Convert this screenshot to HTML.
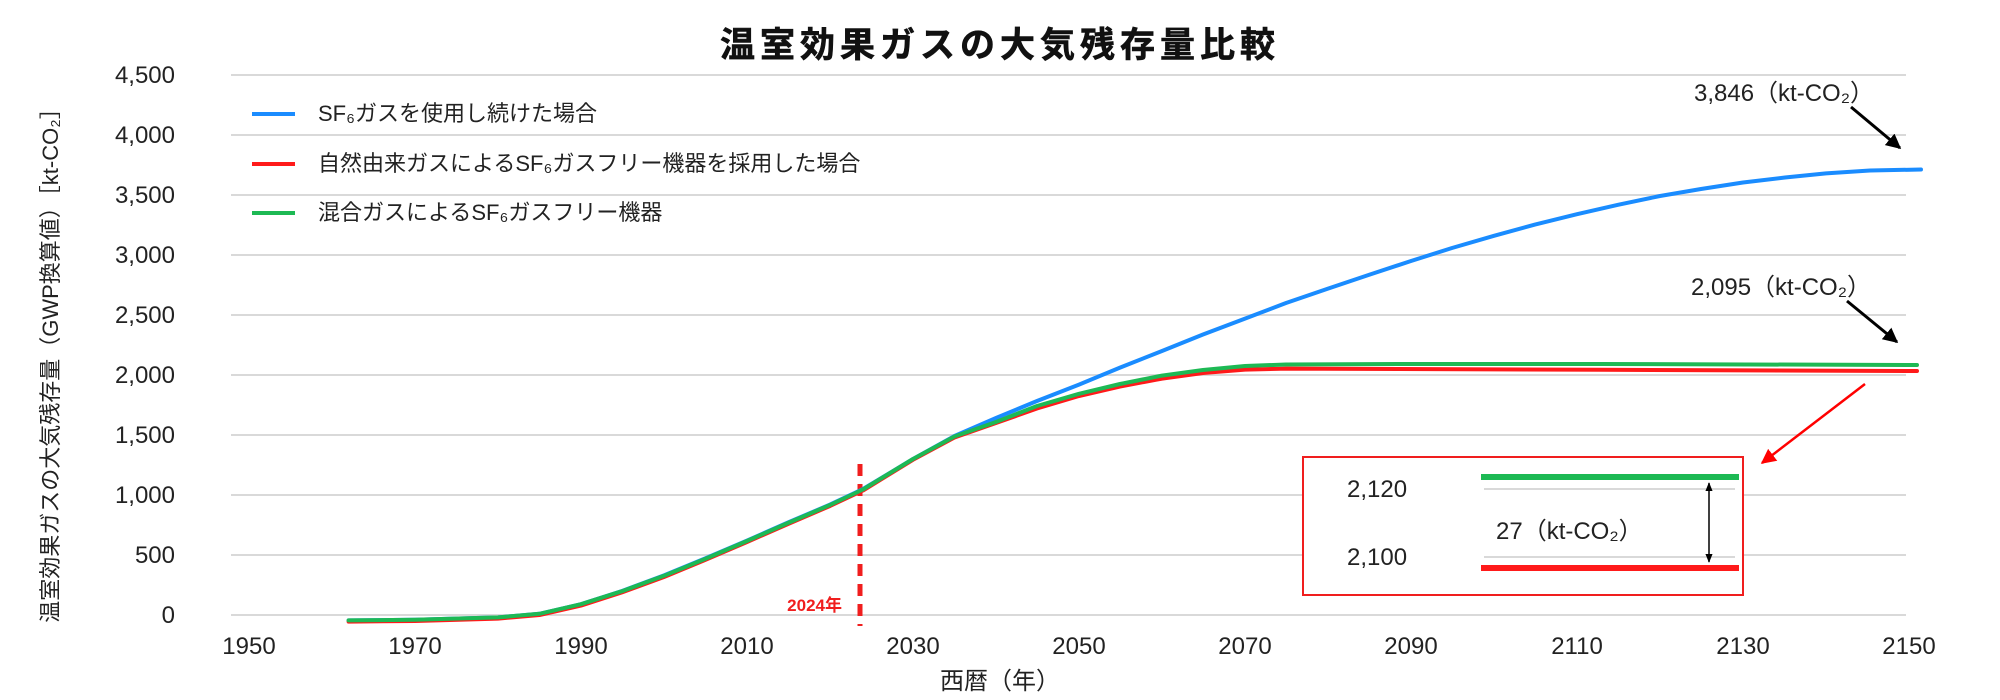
<!DOCTYPE html>
<html><head><meta charset="utf-8"><style>
html,body{margin:0;padding:0;background:#fff;}
svg{display:block;font-family:"Liberation Sans","Noto Sans CJK JP",sans-serif;}
</style></head><body>
<svg width="2000" height="700" viewBox="0 0 2000 700" xmlns="http://www.w3.org/2000/svg">
<defs>
<marker id="ab" viewBox="0 0 10 10" refX="9" refY="5" markerWidth="5" markerHeight="5" orient="auto"><path d="M0,0 L10,5 L0,10 z" fill="#000"/></marker>
<marker id="ar" viewBox="0 0 10 10" refX="9" refY="5" markerWidth="6" markerHeight="6" orient="auto"><path d="M0,0 L10,5 L0,10 z" fill="#f00"/></marker>
<marker id="as" viewBox="0 0 10 10" refX="9" refY="5" markerWidth="6" markerHeight="6" orient="auto-start-reverse"><path d="M0,1 L10,5 L0,9 z" fill="#000"/></marker>
</defs>
<text x="1000" y="57" text-anchor="middle" font-size="35" font-weight="bold" letter-spacing="5" fill="#111" stroke="#111" stroke-width="0.6">温室効果ガスの大気残存量比較</text>
<g stroke="#d9d9d9" stroke-width="2">
<line x1="231" y1="75" x2="1906" y2="75"/><line x1="231" y1="135" x2="1906" y2="135"/>
<line x1="231" y1="195" x2="1906" y2="195"/><line x1="231" y1="255" x2="1906" y2="255"/>
<line x1="231" y1="315" x2="1906" y2="315"/><line x1="231" y1="375" x2="1906" y2="375"/>
<line x1="231" y1="435" x2="1906" y2="435"/><line x1="231" y1="495" x2="1906" y2="495"/>
<line x1="231" y1="555" x2="1906" y2="555"/><line x1="231" y1="615" x2="1906" y2="615"/>
</g>
<g font-size="24" fill="#222" text-anchor="end">
<text x="175" y="83">4,500</text><text x="175" y="143">4,000</text><text x="175" y="203">3,500</text>
<text x="175" y="263">3,000</text><text x="175" y="323">2,500</text><text x="175" y="383">2,000</text>
<text x="175" y="443">1,500</text><text x="175" y="503">1,000</text><text x="175" y="563">500</text>
<text x="175" y="623">0</text>
</g>
<g font-size="24" fill="#222" text-anchor="middle">
<text x="249" y="654">1950</text><text x="415" y="654">1970</text><text x="581" y="654">1990</text>
<text x="747" y="654">2010</text><text x="913" y="654">2030</text><text x="1079" y="654">2050</text>
<text x="1245" y="654">2070</text><text x="1411" y="654">2090</text><text x="1577" y="654">2110</text>
<text x="1743" y="654">2130</text><text x="1909" y="654">2150</text>
</g>
<text x="1000" y="689" font-size="24" fill="#222" text-anchor="middle">西暦（年）</text>
<text transform="translate(58,360) rotate(-90)" font-size="22" fill="#222" text-anchor="middle">温室効果ガスの大気残存量（GWP換算値）［kt-CO₂］</text>
<line x1="252" y1="114" x2="295" y2="114" stroke="#1a8cff" stroke-width="4"/>
<line x1="252" y1="164" x2="295" y2="164" stroke="#ff1a1a" stroke-width="4"/>
<line x1="252" y1="213" x2="295" y2="213" stroke="#1db954" stroke-width="4"/>
<g font-size="22" fill="#222">
<text x="318" y="121">SF₆ガスを使用し続けた場合</text>
<text x="318" y="171">自然由来ガスによるSF₆ガスフリー機器を採用した場合</text>
<text x="318" y="220">混合ガスによるSF₆ガスフリー機器</text>
</g>
<line x1="860" y1="464" x2="860" y2="626" stroke="#f01e1e" stroke-width="5" stroke-dasharray="12,8"/>
<text x="842" y="611" font-size="17" font-weight="bold" fill="#f01e1e" text-anchor="end">2024年</text>
<g fill="none" stroke-width="4" stroke-linejoin="round" stroke-linecap="round">
<polyline stroke="#1a8cff" points="348.6,620.4 415,619.8 498,617.4 539.5,613.8 581,604.2 622,591 664,575.4 705,558.5 747,540.6 788,522.5 830,504.6 863,489 913,459 954.5,436 996,418 1037,401 1079,384.6 1120,367.6 1162,351 1203,334.5 1245,318.6 1286,303 1328,288.6 1370,274.5 1411,261 1452,248 1494,235.8 1535,224.6 1577,214.2 1618,204.8 1660,196 1701,189 1743,182.5 1785,177.5 1826,173.4 1870,170.5 1921,169.5"/>
<polyline stroke="#ff1a1a" points="348.6,621.6 415,621 498,618.6 539.5,615 581,605.6 622,592.4 664,577 705,560 747,542 788,524 830,506 863,490.5 913,459.8 954.5,437.5 996,423 1037,408.5 1079,396 1120,386.5 1162,378.6 1203,373 1245,369.6 1286,368.6 1400,369 1600,369.8 1917,371"/>
<polyline stroke="#1db954" points="348.6,620.4 415,619.8 498,617.4 539.5,613.8 581,604.2 622,591.2 664,575.8 705,559 747,541 788,523 830,505 863,489.5 913,459 954.5,436.5 996,422 1037,406 1079,393.8 1120,384 1162,375.6 1203,370 1245,366 1286,364.5 1400,364 1600,364 1917,365"/>
</g>
<g font-size="24" fill="#222">
<text x="1694" y="101">3,846（kt-CO₂）</text>
<text x="1691" y="295">2,095（kt-CO₂）</text>
</g>
<line x1="1851" y1="107" x2="1900" y2="148" stroke="#000" stroke-width="3" marker-end="url(#ab)"/>
<line x1="1847" y1="301" x2="1897" y2="342" stroke="#000" stroke-width="3" marker-end="url(#ab)"/>
<line x1="1865" y1="384" x2="1762" y2="463" stroke="#f00" stroke-width="2.5" marker-end="url(#ar)"/>
<rect x="1303" y="457" width="440" height="138" fill="#fff" stroke="#f01e1e" stroke-width="2"/>
<line x1="1484" y1="489" x2="1735" y2="489" stroke="#d9d9d9" stroke-width="2"/>
<line x1="1484" y1="557" x2="1735" y2="557" stroke="#d9d9d9" stroke-width="2"/>
<line x1="1481" y1="477" x2="1739" y2="477" stroke="#1db954" stroke-width="6"/>
<line x1="1481" y1="568" x2="1739" y2="568" stroke="#ff1a1a" stroke-width="6"/>
<line x1="1709" y1="483" x2="1709" y2="562" stroke="#000" stroke-width="1.5" marker-start="url(#as)" marker-end="url(#as)"/>
<g font-size="24" fill="#222">
<text x="1347" y="497">2,120</text>
<text x="1347" y="565">2,100</text>
<text x="1496" y="539">27（kt-CO₂）</text>
</g>
</svg>
</body></html>
